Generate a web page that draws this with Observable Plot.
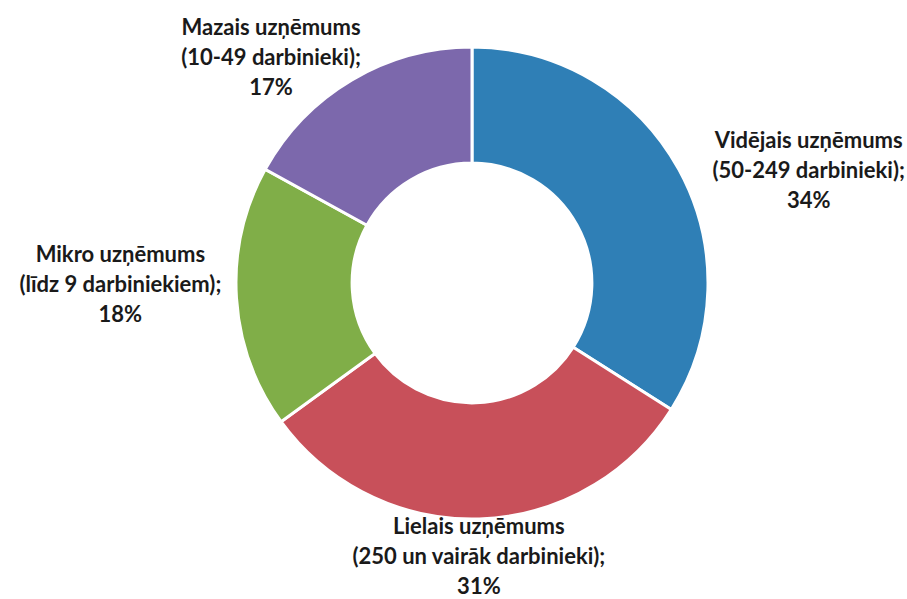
<!DOCTYPE html>
<html>
<head>
<meta charset="utf-8">
<script src="https://cdn.jsdelivr.net/npm/d3@7"></script>
<script src="https://cdn.jsdelivr.net/npm/@observablehq/plot@0.6"></script>
<style>
  html, body { margin: 0; padding: 0; background: #fff; }
  #chart { width: 907px; height: 599px; }
</style>
</head>
<body>
<div id="chart"></div>
<script>
// Data
const categories = ["Vidējais uzņēmums", "Lielais uzņēmums", "Mikro uzņēmums", "Mazais uzņēmums"];
const details = ["(50-249 darbinieki);", "(250 un vairāk darbinieki);", "(līdz 9 darbiniekiem);", "(10-49 darbinieki);"];
const shares = [34, 31, 18, 17];
const colors = ["#2F7FB6", "#C8505A", "#80AE48", "#7C68AC"];

// Layout (in units of the outer radius)
const innerRatio = 0.508;
const labelOffset = {
  "Vidējais uzņēmums": [0.11, -0.235],
  "Lielais uzņēmums": [-0.02, 0.35],
  "Mikro uzņēmums": [0.005, 0.10],
  "Mazais uzņēmums": [-0.09, -0.325]
};
const labelRadius = 1.5;

const total = d3.sum(shares);
let cum = 0;
const slices = categories.map((c, i) => {
  const start = cum / total * 2 * Math.PI;
  cum += shares[i];
  const end = cum / total * 2 * Math.PI;
  const mid = (start + end) / 2;
  const off = labelOffset[c];
  return {
    category: c, detail: details[i], share: shares[i], color: colors[i],
    start, end,
    lx: labelRadius * Math.sin(mid) + off[0],
    ly: labelRadius * Math.cos(mid) + off[1],
    label: `${c}\n${details[i]}\n${shares[i]}%`
  };
});

const R = 236;
const W = 907, H = 599, cx = 472, cy = 283;

const donut = (index, scales) => {
  const x = scales.x, y = scales.y;
  const ox = x(0), oy = y(0);
  const rOuter = x(1) - x(0);
  const arc = d3.arc().innerRadius(rOuter * innerRatio).outerRadius(rOuter);
  const g = d3.create("svg:g").attr("transform", `translate(${ox},${oy})`);
  g.selectAll("path").data(slices).join("path")
    .attr("d", d => arc({startAngle: d.start, endAngle: d.end}))
    .attr("fill", d => d.color)
    .attr("stroke", "#fff")
    .attr("stroke-width", 3)
    .attr("stroke-linejoin", "miter");
  return g.node();
};

const plot = Plot.plot({
  width: W, height: H,
  margin: 0,
  x: {domain: [-cx / R, (W - cx) / R], range: [0, W], axis: null},
  y: {domain: [-(H - cy) / R, cy / R], range: [H, 0], axis: null},
  style: {background: "#fff"},
  marks: [
    donut,
    Plot.text(slices, {
      x: "lx", y: "ly", text: "label",
      fontFamily: "Lato, 'Open Sans', sans-serif",
      fontWeight: "bold",
      fontSize: 22,
      lineHeight: 1.36,
      fill: "#1a1a1a",
      textAnchor: "middle"
    })
  ]
});
document.getElementById("chart").appendChild(plot);
</script>
</body>
</html>
